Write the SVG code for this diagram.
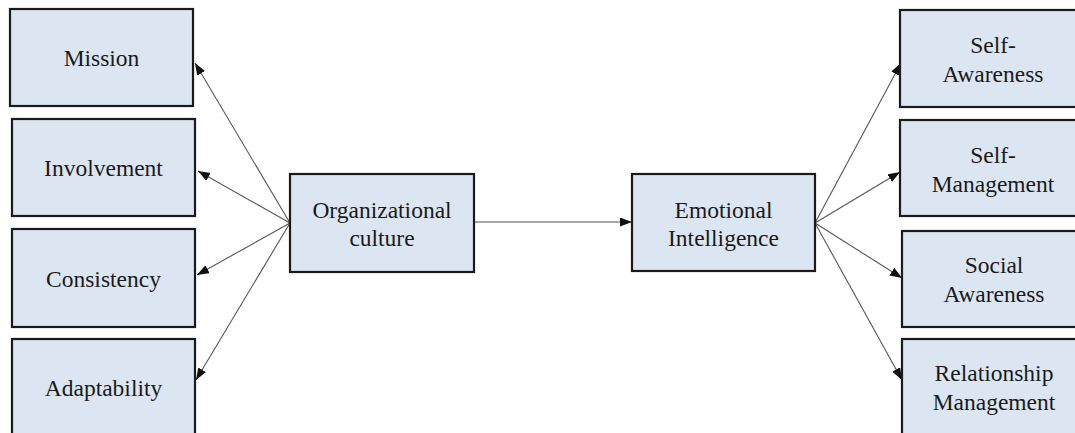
<svg xmlns="http://www.w3.org/2000/svg" width="1075" height="433" viewBox="0 0 1075 433">
<style>
.box{fill:#dce6f2;stroke:#1a1a1a;stroke-width:2.2}
.t{fill:#1a1a1a;text-anchor:middle}
.c{stroke:#555;stroke-width:1.1;fill:none;marker-end:url(#ah)}
</style>
<defs>
<marker id="ah" markerUnits="userSpaceOnUse" markerWidth="13" markerHeight="10" refX="12" refY="4.5" orient="auto">
<path d="M0,0 L12,4.5 L0,9 z" fill="#111"/>
</marker>
</defs>
<rect width="1075" height="433" fill="#fff"/>
<g id="connectors">
<line class="c" x1="290" y1="223" x2="195" y2="63"/>
<line class="c" x1="290" y1="223" x2="198" y2="171"/>
<line class="c" x1="290" y1="223" x2="197" y2="275"/>
<line class="c" x1="290" y1="223" x2="196" y2="380"/>
<line class="c" x1="474" y1="222" x2="632" y2="222"/>
<line class="c" x1="815" y1="223" x2="901" y2="63"/>
<line class="c" x1="815" y1="223" x2="900" y2="172"/>
<line class="c" x1="815" y1="223" x2="902" y2="278"/>
<line class="c" x1="815" y1="223" x2="902" y2="380"/>
</g>
<g font-family="Liberation Serif, DejaVu Serif, serif" font-size="23.5">
<g id="mission"><rect class="box" x="10" y="9" width="183" height="97"/><text class="t" x="101.5" y="66">Mission</text></g>
<g id="involvement"><rect class="box" x="12" y="119" width="183" height="97"/><text class="t" x="103.5" y="176">Involvement</text></g>
<g id="consistency"><rect class="box" x="12" y="229" width="183" height="98"/><text class="t" x="103.5" y="287">Consistency</text></g>
<g id="adaptability"><rect class="box" x="12" y="339" width="183" height="110"/><text class="t" x="103.5" y="396">Adaptability</text></g>
<g id="org-culture"><rect class="box" x="290" y="174" width="184" height="98"/><text class="t" x="382" y="218">Organizational</text><text class="t" x="382" y="246">culture</text></g>
<g id="emotional-intelligence"><rect class="box" x="632" y="174" width="183" height="97"/><text class="t" x="723.5" y="218">Emotional</text><text class="t" x="723.5" y="246">Intelligence</text></g>
<g id="self-awareness"><rect class="box" x="900" y="10" width="185" height="97"/><text class="t" x="993" y="53">Self-</text><text class="t" x="993" y="82">Awareness</text></g>
<g id="self-management"><rect class="box" x="900" y="120" width="185" height="96"/><text class="t" x="993" y="163">Self-</text><text class="t" x="993" y="192">Management</text></g>
<g id="social-awareness"><rect class="box" x="902" y="231" width="185" height="96"/><text class="t" x="994" y="273">Social</text><text class="t" x="994" y="302">Awareness</text></g>
<g id="relationship-management"><rect class="box" x="902" y="339" width="185" height="110"/><text class="t" x="994" y="381">Relationship</text><text class="t" x="994" y="410">Management</text></g>
</g>
</svg>
